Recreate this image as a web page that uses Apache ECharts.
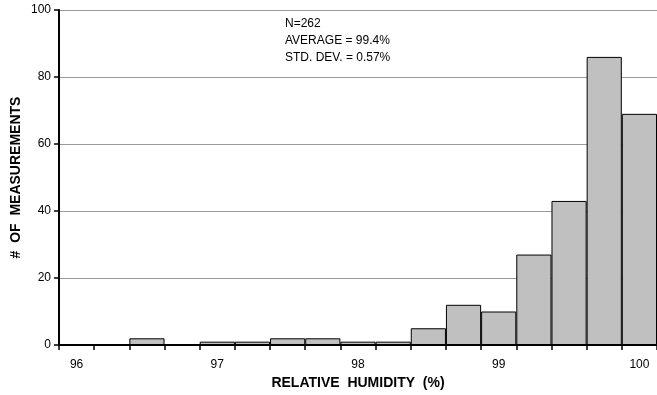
<!DOCTYPE html>
<html><head><meta charset="utf-8">
<script src="https://cdn.jsdelivr.net/npm/echarts@6/dist/echarts.min.js"></script>
<style>html,body{margin:0;padding:0;background:#fff}#c{width:657px;height:395px}</style>
</head><body><div id="c"></div>
<script>
const categories = ['96','96.25','96.5','96.75','97','97.25','97.5','97.75','98','98.25','98.5','98.75','99','99.25','99.5','99.75','100'];
const counts = [0,0,2,0,1,1,2,2,1,1,5,12,10,27,43,86,69];
const yTicks = [0,20,40,60,80,100];
const xTickLabels = ['96','97','98','99','100'];
const statsText = ['N=262','AVERAGE = 99.4%','STD. DEV. = 0.57%'];

const chart = echarts.init(document.getElementById('c'));
chart.setOption({
  animation:false,
  backgroundColor:'#fff',
  textStyle:{fontFamily:'Liberation Sans, Arial, sans-serif'},
  grid:{left:59,right:0,top:10,bottom:50,outerBoundsMode:'none',containLabel:false},
  xAxis:{
    type:'category', data:categories, boundaryGap:true,
    name:'RELATIVE  HUMIDITY  (%)', nameLocation:'middle', nameGap:31,
    nameTextStyle:{fontWeight:'bold',fontSize:14,color:'#000'},
    axisLine:{lineStyle:{color:'#000',width:2}},
    axisTick:{show:true,alignWithLabel:false,length:5,inside:false,lineStyle:{color:'#000',width:1.5},interval:0},
    axisLabel:{interval:3,margin:14,color:'#000',fontSize:12,
      formatter:(v)=> (xTickLabels.includes(v)? v : '')},
    splitLine:{show:false}
  },
  yAxis:{
    type:'value', min:yTicks[0], max:yTicks[yTicks.length-1], interval:20,
    name:'#  OF  MEASUREMENTS', nameLocation:'middle', nameGap:36, nameRotate:90,
    nameMoveOverlap:false,
    nameTextStyle:{fontWeight:'bold',fontSize:14,color:'#000'},
    axisLine:{show:true,lineStyle:{color:'#000',width:2}},
    axisTick:{show:true,length:5,lineStyle:{color:'#000',width:1.5}},
    axisLabel:{margin:8,color:'#000',fontSize:12},
    splitLine:{show:true,lineStyle:{color:'#9a9a9a',width:1}}
  },
  series:[{
    type:'bar', data:counts, barCategoryGap:'0%',
    itemStyle:{color:'#c0c0c0',borderColor:'#000',borderWidth:1}
  }],
  graphic:[
    {type:'text',left:285,top:15,style:{text:statsText.join('\n'),fontSize:12,lineHeight:17,fill:'#000',fontFamily:'Liberation Sans, Arial, sans-serif'}}
  ]
});
</script></body></html>
